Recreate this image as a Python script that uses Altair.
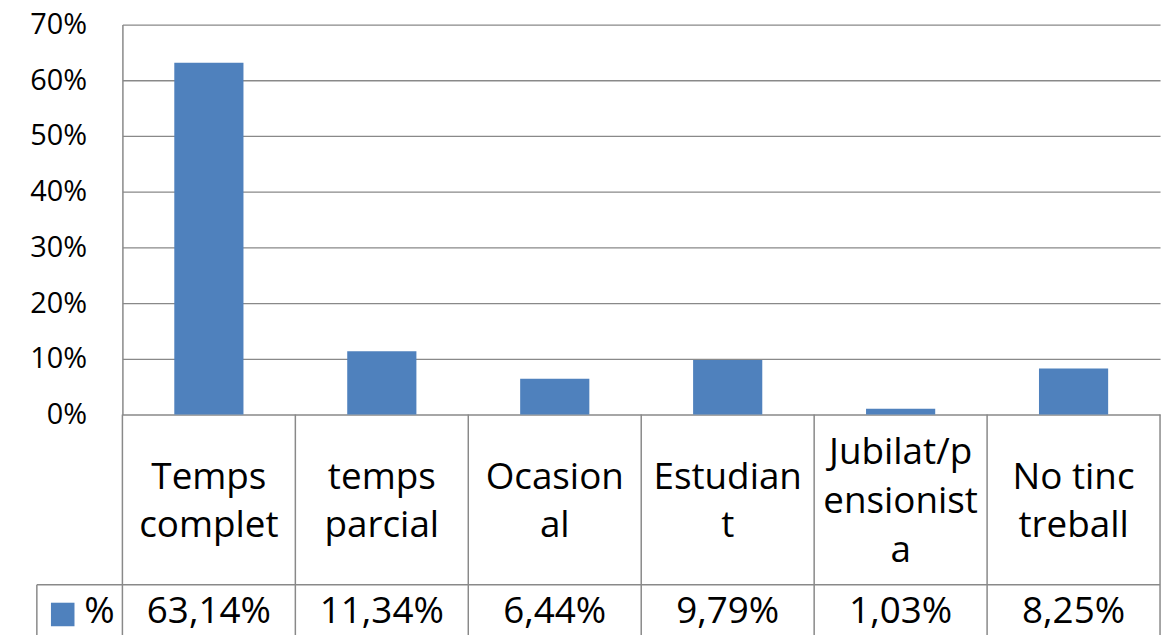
import altair as alt
import pandas as pd

categories = ["Temps complet", "temps parcial", "Ocasional", "Estudiant",
              "Jubilat/pensionista", "No tinc treball"]
wrapped_labels = ["Temps\ncomplet", "temps\nparcial", "Ocasion\nal", "Estudian\nt",
                  "Jubilat/p\nensionist\na", "No tinc\ntreball"]
values = [0.6314, 0.1134, 0.0644, 0.0979, 0.0103, 0.0825]
y_ticks = [0, 0.1, 0.2, 0.3, 0.4, 0.5, 0.6, 0.7]
series_name = "%"

W, H = 1043, 392
FONT = "Open Sans"
LINE = "#898989"
BAR = "#4F81BD"
LINE_H = 49
HEADER_CENTER = 480

value_labels = [f"{v*100:.2f}%".replace(".", ",") for v in values]
n_lines = [lbl.count("\n") + 1 for lbl in wrapped_labels]
df = pd.DataFrame({"cat": categories, "label": wrapped_labels,
                   "value": values, "vlabel": value_labels,
                   "ytop": [HEADER_CENTER - (n - 1) * LINE_H / 2 for n in n_lines]})
bounds = pd.DataFrame({"b": list(range(len(categories) + 1))})
one = pd.DataFrame({"s": [series_name]})

xband = alt.X("cat:N", sort=categories, axis=None,
              scale=alt.Scale(paddingInner=0.6, paddingOuter=0.3))

bars = alt.Chart(df).mark_bar(color=BAR).encode(
    x=xband,
    y=alt.Y("value:Q", scale=alt.Scale(domain=[0, 0.7], nice=False),
            axis=alt.Axis(values=y_ticks, format=".0%", title=None, grid=True,
                          gridColor=LINE, gridWidth=1.3, domain=True,
                          domainColor=LINE, domainWidth=1.5, ticks=False,
                          labelPadding=36, labelFontSize=29, labelFont=FONT,
                          labelColor="black")),
)

header = alt.Chart(df).mark_text(font=FONT, fontSize=37, lineBreak="\n",
                                 lineHeight=LINE_H, baseline="middle",
                                 align="center", color="black").encode(
    x=xband, y=alt.Y("ytop:Q", scale=None, axis=None), text="label:N")

vals = alt.Chart(df).mark_text(font=FONT, fontSize=37, baseline="middle",
                               align="center", color="black").encode(
    x=xband, y=alt.value(591), text="vlabel:N")

vrules = alt.Chart(bounds).mark_rule(color=LINE, strokeWidth=1.5).encode(
    x=alt.X("b:Q", axis=None, scale=alt.Scale(domain=[0, 6], nice=False, zero=False)),
    y=alt.value(H), y2=alt.value(640))

hrule = alt.Chart(one).mark_rule(color=LINE, strokeWidth=1.5).encode(
    x=alt.value(-86), x2=alt.value(W), y=alt.value(563))

left_border = alt.Chart(one).mark_rule(color=LINE, strokeWidth=1.5).encode(
    x=alt.value(-86), y=alt.value(563), y2=alt.value(640))

legend_sq = alt.Chart(one).mark_square(color=BAR, filled=True, size=560,
                                       opacity=1).encode(
    x=alt.value(-60), y=alt.value(593))

legend_txt = alt.Chart(one).mark_text(font=FONT, fontSize=37, baseline="middle",
                                      align="center", color="black").encode(
    x=alt.value(-23), y=alt.value(591), text="s:N")

chart = alt.layer(bars, vrules, hrule, left_border, header, vals,
                  legend_sq, legend_txt).resolve_scale(
    x="independent", y="independent").properties(
    width=W, height=H,
    autosize=alt.AutoSizeParams(type="none"),
    padding={"left": 115, "top": 15, "right": 7, "bottom": 220},
    background="white",
).configure_view(stroke=None)

chart.save("out.html", embed_options={"renderer": "svg", "actions": False})
